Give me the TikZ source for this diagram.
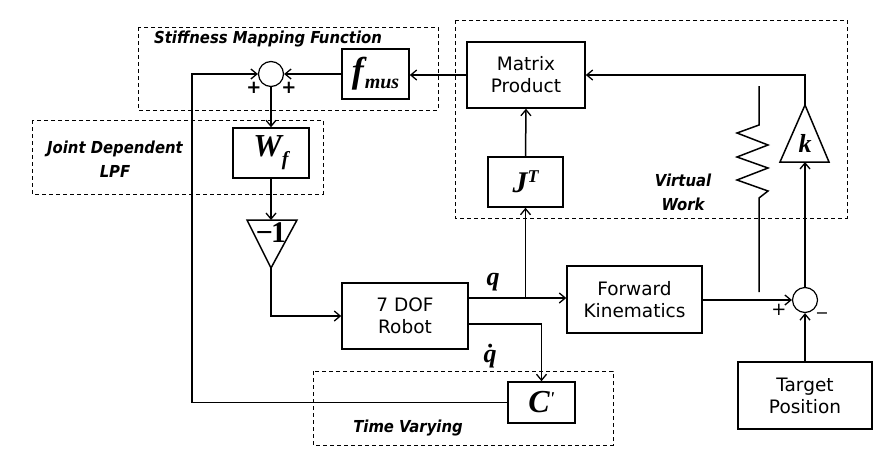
\documentclass[tikz,border=0pt]{standalone}
\usepackage{fontspec}
\setmainfont{DejaVu Sans}
\newfontfamily\tnr{Liberation Serif}
\newfontfamily\grpfont{DejaVu Sans Condensed}
\usetikzlibrary{arrows.meta,calc}
\tikzset{
  blk/.style={draw, line width=1.5pt, inner sep=0pt, align=center, font=\fontsize{18.5}{22}\selectfont},
  sumc/.style={draw, circle, line width=1.2pt, minimum size=25pt, inner sep=0pt},
  ln/.style={line width=1.5pt},
  arr/.style={line width=1.5pt, -{Straight Barb[length=6pt,width=10pt,line width=1.3pt]}},
  grp/.style={draw, line width=0.9pt, dash pattern=on 4pt off 3pt},
  grplab/.style={font=\grpfont\fontsize{16.5}{24}\selectfont\bfseries\itshape, align=center},
}
\newcommand{\mbi}[2]{{\fontsize{#1}{#1}\selectfont\tnr\bfseries\itshape #2}}
\newcommand{\mbu}[2]{{\fontsize{#1}{#1}\selectfont\tnr\bfseries #2}}
\begin{document}
\begin{tikzpicture}[x=1pt,y=-1pt]
\useasboundingbox (0,0) rectangle (882,463);
% group boxes
\draw[grp] (138,27) rectangle (438,110);
\draw[grp] (455,20) rectangle (847,218);
\draw[grp] (32,120) rectangle (323,194);
\draw[grp] (313,371) rectangle (613,445);
\node[grplab] (lstiff) at (268,39) {Stiffness Mapping Function};
\node[grplab] (ljoint) at (115,159) {Joint Dependent\\LPF};
\node[grplab] (lvirt) at (683,192) {Virtual\\Work};
\node[grplab] (ltime) at (408,428) {Time Varying};
% blocks
\node[blk, minimum width=67pt, minimum height=50pt, fill=white] (fmus) at (375.5,74) {\mbi{36}{f}\kern1pt\raisebox{-6pt}{\mbi{20}{mus}}};
\node[blk, minimum width=118pt, minimum height=66pt, fill=white] (mp) at (526,75) {Matrix\\Product};
\node[blk, minimum width=75pt, minimum height=50pt] (JT) at (525.5,182) {\mbi{30}{J}\raisebox{10pt}{\mbi{18}{T}}};
\node[blk, minimum width=76pt, minimum height=50pt] (Wf) at (271,153) {\mbi{32}{W}\raisebox{-9pt}{\mbi{20}{f}}};
\node[blk, minimum width=126pt, minimum height=66pt] (robot) at (405,316) {7 DOF\\Robot};
\node[blk, minimum width=135pt, minimum height=67pt] (fk) at (634.5,299.5) {Forward\\Kinematics};
\node[blk, minimum width=67pt, minimum height=41pt] (C) at (541.5,402.5) {\mbi{32}{C}\raisebox{8pt}{\mbi{18}{\textquotesingle}}};
\node[blk, minimum width=134pt, minimum height=67pt] (target) at (805,395.5) {Target\\Position};
\node[sumc] (s1) at (271,74) {};
\node[sumc] (s2) at (805,300) {};
% triangles
\coordinate (negtop) at (271,220);
\coordinate (negtip) at (271,268);
\draw[ln, line join=miter] (247,220) -- (297,220) -- (negtip) -- cycle;
\node (neglab) at (271,233) {\mbu{30}{\textminus\kern-2pt1}};
\coordinate (kbase) at (805,162);
\coordinate (ktip) at (805,105);
\draw[ln, line join=miter] (780,162) -- (829,162) -- (ktip) -- cycle;
\node (klab) at (805,143) {\mbi{26}{k}};
% spring
\coordinate (sptop) at (759,86);
\coordinate (spbot) at (759,292);
\draw[ln] (sptop) -- (759,125) -- (737,133) -- (768,145) -- (737,157) -- (768,168) -- (737,180) -- (768,191) -- (759,198) -- (spbot);
% connectors
\draw[arr] (mp.west) -- (mp.west -| fmus.east);
\draw[arr] (fmus.west) -- (s1.east);
\coordinate (fbx) at (192,0);
\draw[arr] (C.west) -- (C.west -| fbx) |- (s1.west);
\draw[arr] (s1.south) -- (Wf.north);
\draw[arr] (Wf.south) -- (negtop);
\draw[arr] (negtip) |- (robot.west);
\coordinate (qs) at ($(robot.east)+(0,-18)$);
\draw[arr] (qs) -- (qs -| fk.west);
\draw[arr] (JT.south |- qs) -- (JT.south);
\draw[arr] (JT.north) -- (mp.south);
\coordinate (qds) at ($(robot.east)+(0,8)$);
\draw[arr] (qds) -| (C.north);
\draw[arr] (fk.east |- s2.west) -- (s2.west);
\draw[arr] (target.north) -- (s2.south);
\draw[arr] (s2.north) -- (kbase);
\draw[arr] (ktip) |- (mp.east);
% signal labels
\node (lq) at (493,282) {\mbi{26}{q}};
\node (lqd) at (490,356) {\mbi{26}{\.q}};
\node (p1) at (254,88) {\fontsize{18}{18}\selectfont\bfseries +};
\node (p2) at (289,88) {\fontsize{18}{18}\selectfont\bfseries +};
\node (p3) at (779,310) {\fontsize{18}{18}\selectfont +};
\node (m3) at (822,316) {\fontsize{16}{16}\selectfont \textminus};
\end{tikzpicture}
\end{document}
